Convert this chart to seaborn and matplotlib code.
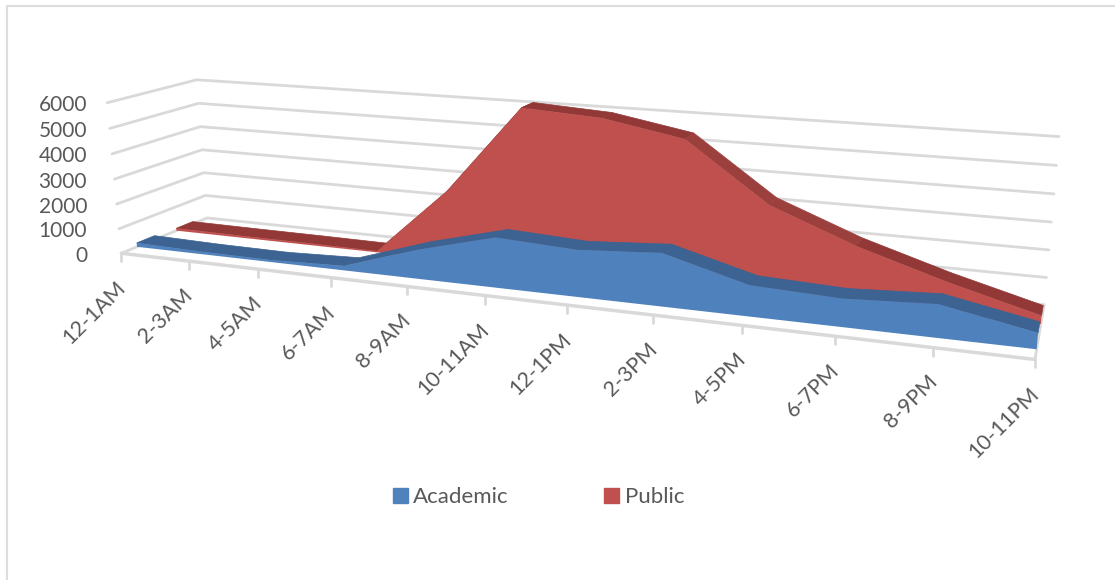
import matplotlib
matplotlib.use("Agg")
import matplotlib.pyplot as plt
from matplotlib.patches import Patch
import numpy as np
import pandas as pd
import seaborn as sns

# %% data
hours = ["12-1AM", "2-3AM", "4-5AM", "6-7AM", "8-9AM", "10-11AM",
         "12-1PM", "2-3PM", "4-5PM", "6-7PM", "8-9PM", "10-11PM"]
academic = [160, 100, 80, 180, 1130, 1900, 1750, 1950, 1120, 1000, 1160, 550]
public = [100, 80, 70, 50, 2750, 6180, 6000, 5450, 3300, 2100, 1140, 300]
y_ticks = [0, 1000, 2000, 3000, 4000, 5000, 6000]

# %% colours
BLUE, BLUE_DARK = "#4F81BD", "#3C6391"
RED, RED_DARK, RED_SLOPE = "#C0504D", "#923937", "#9C403E"
GRID, TEXT = "#D9D9D9", "#595959"

# %% chart box corners seen on the picture: (category, value, depth) -> pixel
n = len(hours)
calib = [((0, 0, 0), (121, 253)), ((n - 1, 0, 0), (1035, 360)),
         ((0, 0, 1), (207, 218)), ((n - 1, 0, 1), (1044, 305)),
         ((0, 6000, 0), (107, 103)), ((0, 6000, 1), (197, 80)),
         ((n - 1, 6000, 1), (1059, 136)),
         ((4, 0, 0), (408, 286)), ((7, 0, 0), (652, 315))]


def fit_camera(pairs):
    rows = []
    for (a, b, c), (px, py) in pairs:
        h = [a / (n - 1), b / 6000, c, 1]
        rows.append(h + [0, 0, 0, 0] + [-px * v for v in h])
        rows.append([0, 0, 0, 0] + h + [-py * v for v in h])
    return np.linalg.svd(np.array(rows))[2][-1].reshape(3, 4)


CAM = fit_camera(calib)


def project(cat, val, depth):
    cat, val, depth = np.broadcast_arrays(np.asarray(cat, float),
                                          np.asarray(val, float),
                                          np.asarray(depth, float))
    h = np.stack([cat / (n - 1), val / 6000, depth, np.ones_like(cat)])
    p = CAM @ h
    return p[0] / p[2], p[1] / p[2]


# %% figure
sns.set_theme(style="white")
plt.rcParams["font.family"] = ["Lato", "DejaVu Sans"]
fig = plt.figure(figsize=(11.15, 5.8), dpi=100)
ax = fig.add_axes([0, 0, 1, 1])
ax.set_xlim(0, 1115)
ax.set_ylim(580, 0)
ax.axis("off")

# outer frame
ax.plot([7, 7, 1115], [580, 6, 6], color="#DDDDDD", lw=1.5)

# %% gridlines on walls and floor
cats = np.arange(n)
segs = []
for v in y_ticks:
    xs, ys = project([0, 0, n - 1], v, [0, 1, 1])
    segs.append(pd.DataFrame({"x": xs, "y": ys, "seg": f"v{v}"}))
xs, ys = project([n - 1, n - 1], 0, [0, 1])
segs.append(pd.DataFrame({"x": xs, "y": ys, "seg": "right"}))
sns.lineplot(data=pd.concat(segs), x="x", y="y", units="seg", estimator=None,
             sort=False, color=GRID, lw=2, ax=ax, legend=False)

# front axis line and ticks
xs, ys = project([0, n - 1], 0, 0)
ax.plot(xs, ys, color=GRID, lw=2.5, zorder=2)
for c in cats:
    tx, ty = project(c, 0, 0)
    ax.plot([tx, tx], [ty, ty + 8], color=GRID, lw=2, zorder=2)
    ax.text(tx - 6, ty + 24, hours[c], rotation=45, ha="right", va="top",
            rotation_mode="anchor", color=TEXT, fontsize=15.5)


# %% 3d areas, back series first
def draw_area(vals, d0, d1, face, top, slope):
    fx, fy = project(cats, vals, d0)
    bx, by = project(cats, vals, d1)
    for i in range(n - 1):
        col = slope if vals[i] - vals[i + 1] > 1000 else top
        ax.fill([fx[i], fx[i + 1], bx[i + 1], bx[i]],
                [fy[i], fy[i + 1], by[i + 1], by[i]],
                color=col, lw=0.5, zorder=3)
    gx, gy = project(cats, 0, d0)
    ax.fill(np.r_[fx, gx[::-1]], np.r_[fy, gy[::-1]], color=face, lw=0, zorder=3)


draw_area(public, 0.62, 0.82, RED, RED_DARK, RED_SLOPE)
draw_area(academic, 0.17, 0.37, BLUE, BLUE_DARK, BLUE_DARK)

# %% value labels
for v in y_ticks:
    _, ly = project(0, v, 0)
    ax.text(87, ly + 2.5, str(v), ha="right", va="center", color=TEXT, fontsize=15)

# %% legend
ax.legend(handles=[Patch(color=BLUE, label="Academic"), Patch(color=RED, label="Public")],
          ncol=2, frameon=False, loc="center", bbox_to_anchor=(0.483, 0.143),
          handlelength=0.66, handleheight=0.66, handletextpad=0.25, columnspacing=4.3,
          labelcolor=TEXT, fontsize=16)

fig.savefig("out.png", dpi=100)
